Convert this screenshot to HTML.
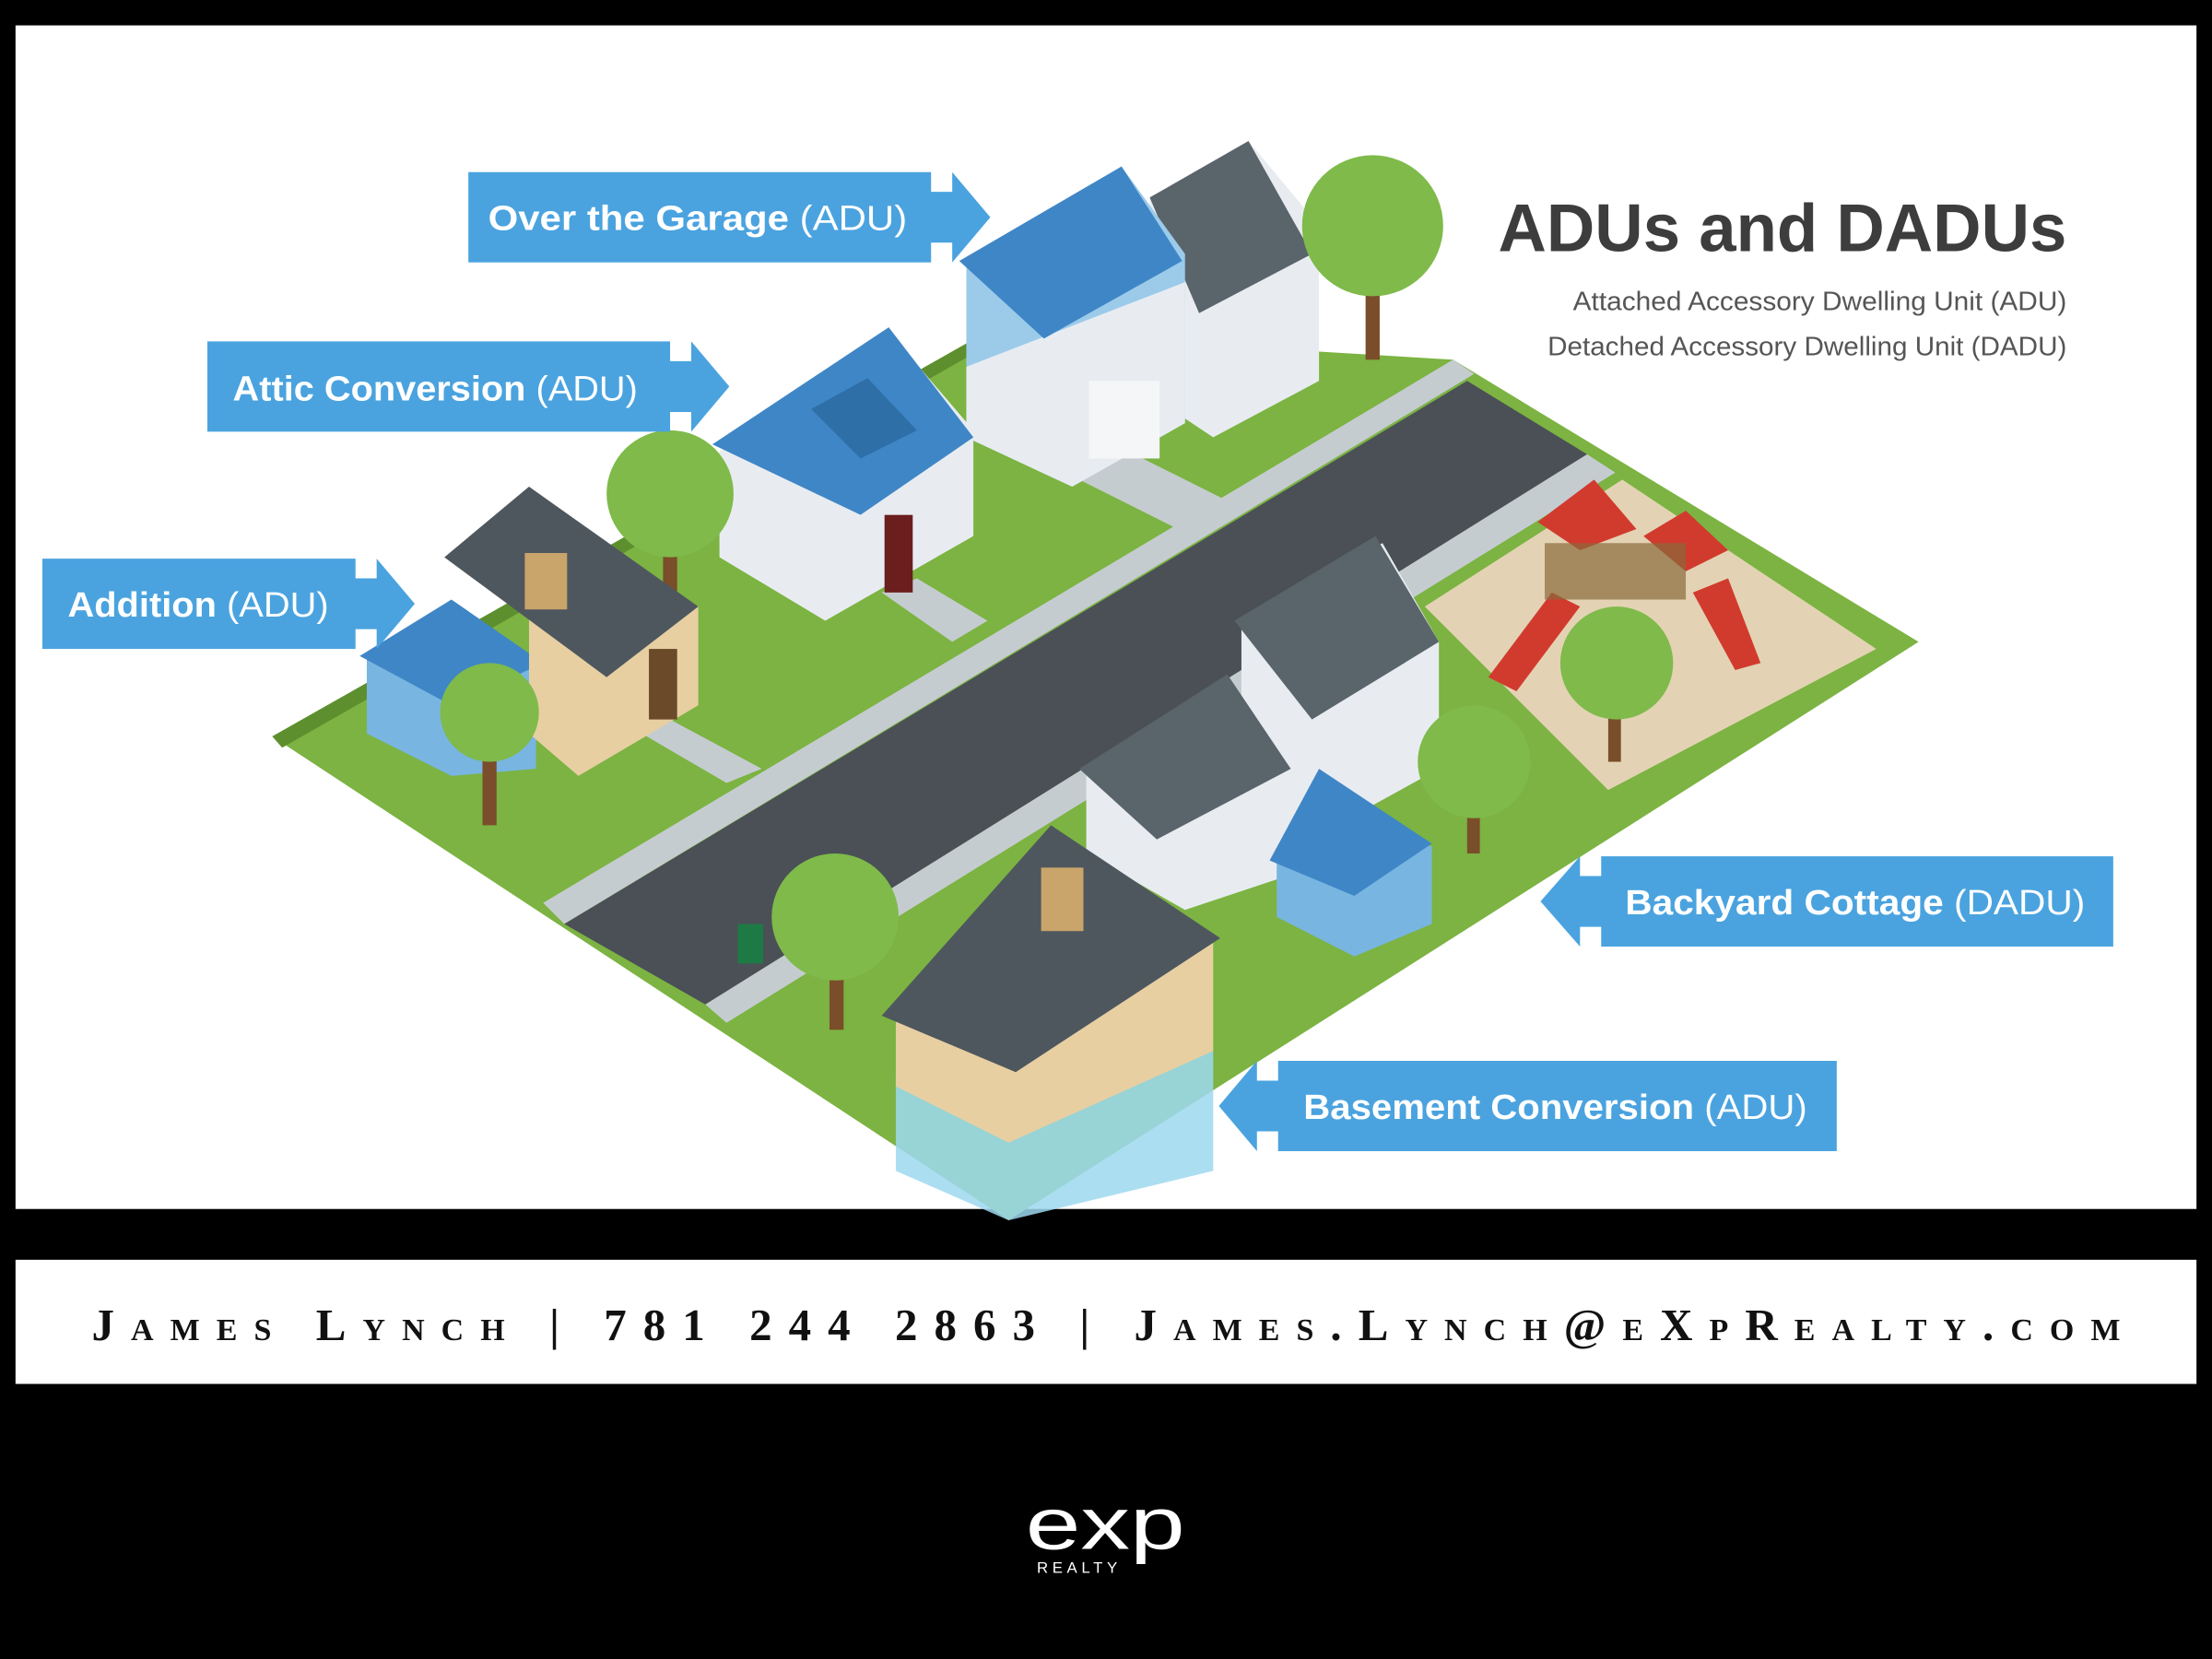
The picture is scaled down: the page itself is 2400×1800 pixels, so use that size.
<!DOCTYPE html>
<html><head><meta charset="utf-8"><style>
html,body{margin:0;padding:0;background:#000;width:2400px;height:1800px;overflow:hidden}
svg{display:block}
</style></head><body>
<svg width="2400" height="1800" viewBox="0 0 1568 1176" xmlns="http://www.w3.org/2000/svg" font-family="Liberation Sans, sans-serif">
<rect width="1568" height="1176" fill="#000"/>
<rect x="11" y="18" width="1546" height="839" fill="#fff"/>
<!-- ground -->
<polygon points="193,522 700,235 1030,255 1360,455 715,865" fill="#7cb342"/>
<polygon points="193,522 700,235 700,245 200,530" fill="#5d8f2e"/>
<!-- playground sand -->
<polygon points="1010,430 1150,340 1330,460 1140,560" fill="#e3d3b4"/>
<!-- sidewalks -->
<polygon points="385,640 1030,255 1045,265 400,655" fill="#c5ccd0"/>
<polygon points="500,712 1125,322 1145,335 515,725" fill="#c5ccd0"/>
<!-- road -->
<polygon points="400,655 1040,270 1125,322 500,712" fill="#4a5055"/>
<!-- paths -->
<polygon points="765,340 800,320 870,355 835,375" fill="#c5ccd0"/>
<polygon points="625,420 650,410 700,440 675,455" fill="#c5ccd0"/>
<polygon points="455,520 475,510 540,545 515,555" fill="#c5ccd0"/>
<!-- house top-right (garage) -->
<polygon points="815,140 885,100 935,160 935,270 860,310 815,280" fill="#e8ecf1"/>
<polygon points="815,140 885,100 930,180 850,222" fill="#5a646b"/>
<polygon points="685,185 795,118 840,180 840,300 760,345 685,310" fill="#9ccbea"/>
<polygon points="685,260 840,200 840,300 760,345 685,310" fill="#e8ecf1"/>
<polygon points="680,185 795,118 838,185 740,240" fill="#3f86c6"/>
<rect x="772" y="270" width="50" height="55" fill="#f4f6f8"/>
<!-- tree top-right -->
<rect x="968" y="185" width="10" height="70" fill="#7a4e2a"/>
<circle cx="973" cy="160" r="50" fill="#7fba4a"/>
<!-- house middle (attic) -->
<polygon points="510,320 630,235 690,305 690,380 585,440 510,395" fill="#e8ecf1"/>
<polygon points="505,315 630,232 690,310 610,365" fill="#3f86c6"/>
<polygon points="575,290 615,268 650,305 610,325" fill="#2e6fa8"/>
<rect x="627" y="365" width="20" height="55" fill="#6b1e1e"/>
<!-- tree -->
<rect x="470" y="370" width="10" height="50" fill="#7a4e2a"/>
<circle cx="475" cy="350" r="45" fill="#7fba4a"/>
<!-- house left (addition) -->
<polygon points="260,465 320,430 380,470 380,545 320,550 260,520" fill="#78b5e0"/>
<polygon points="255,465 320,425 385,470 320,500" fill="#3f86c6"/>
<polygon points="375,420 435,395 495,430 495,500 410,550 375,520" fill="#e7cfa2"/>
<polygon points="315,395 375,345 495,430 430,480" fill="#4e575e"/>
<rect x="372" y="392" width="30" height="40" fill="#c9a46b"/>
<rect x="460" y="460" width="20" height="50" fill="#6b4a2a"/>
<rect x="342" y="520" width="10" height="65" fill="#7a4e2a"/>
<circle cx="347" cy="505" r="35" fill="#7fba4a"/>
<!-- houses bottom middle -->
<polygon points="880,440 980,385 1020,455 1020,545 920,600 880,560" fill="#e8ecf1"/>
<polygon points="875,440 975,380 1020,455 930,510" fill="#5a646b"/>
<polygon points="770,545 860,495 915,550 915,620 840,645 770,605" fill="#e8ecf1"/>
<polygon points="765,545 870,478 915,545 820,595" fill="#5a646b"/>
<!-- backyard cottage -->
<polygon points="905,610 945,575 1015,600 1015,655 960,678 905,650" fill="#78b5e0"/>
<polygon points="900,610 935,545 1015,598 960,635" fill="#3f86c6"/>
<!-- trees -->
<rect x="1040" y="560" width="9" height="45" fill="#7a4e2a"/>
<circle cx="1045" cy="540" r="40" fill="#7fba4a"/>
<rect x="1140" y="500" width="9" height="40" fill="#7a4e2a"/>
<circle cx="1146" cy="470" r="40" fill="#7fba4a"/>
<rect x="588" y="680" width="10" height="50" fill="#7a4e2a"/>
<circle cx="592" cy="650" r="45" fill="#7fba4a"/>
<!-- playground -->
<polygon points="1090,370 1130,340 1160,375 1120,390" fill="#d13b2e"/>
<polygon points="1165,380 1195,362 1225,390 1195,405" fill="#d13b2e"/>
<polygon points="1055,480 1100,420 1120,430 1075,490" fill="#d13b2e"/>
<polygon points="1200,420 1225,410 1248,470 1230,475" fill="#d13b2e"/>
<rect x="1095" y="385" width="100" height="40" fill="#8a6a3a" opacity=".7"/>
<!-- front house (basement) -->
<polygon points="635,760 860,745 860,830 715,865 635,830" fill="#9ed8f0" opacity=".85"/>
<polygon points="635,720 735,655 860,665 860,745 715,810 635,770" fill="#e7cfa2"/>
<polygon points="625,720 745,585 865,665 720,760" fill="#4e575e"/>
<rect x="738" y="615" width="30" height="45" fill="#c9a46b"/>
<!-- sign -->
<rect x="523" y="655" width="18" height="28" fill="#1e7a45"/>
<!-- labels -->
<g fill="#4aa3df">
<rect x="332" y="122" width="328" height="64"/><polygon points="658,136 675,136 675,122 702,154 675,186 675,172 658,172"/>
<rect x="147" y="242" width="328" height="64"/><polygon points="473,256 490,256 490,242 517,274 490,306 490,292 473,292"/>
<rect x="30" y="396" width="222" height="64"/><polygon points="250,410 267,410 267,396 294,428 267,460 267,446 250,446"/>
<rect x="1135" y="607" width="363" height="64"/><polygon points="1137,621 1120,621 1120,607 1092,639 1120,671 1120,657 1137,657"/>
<rect x="906" y="752" width="396" height="64"/><polygon points="908,766 891,766 891,752 864,784 891,816 891,802 908,802"/>
</g>
<g fill="#fff" font-size="25">
<text x="346" y="163" textLength="297" lengthAdjust="spacingAndGlyphs"><tspan font-weight="bold">Over the Garage</tspan> (ADU)</text>
<text x="165" y="284" textLength="287" lengthAdjust="spacingAndGlyphs"><tspan font-weight="bold">Attic Conversion</tspan> (ADU)</text>
<text x="48" y="437" textLength="185" lengthAdjust="spacingAndGlyphs"><tspan font-weight="bold">Addition</tspan> (ADU)</text>
<text x="1152" y="648" textLength="326" lengthAdjust="spacingAndGlyphs"><tspan font-weight="bold">Backyard Cottage</tspan> (DADU)</text>
<text x="924" y="793" textLength="357" lengthAdjust="spacingAndGlyphs"><tspan font-weight="bold">Basement Conversion</tspan> (ADU)</text>
</g>
<text x="1062" y="178" font-size="48" font-weight="bold" fill="#3d3d3d" textLength="403" lengthAdjust="spacingAndGlyphs">ADUs and DADUs</text>
<text x="1465" y="220" font-size="19" fill="#555" text-anchor="end" textLength="350" lengthAdjust="spacingAndGlyphs">Attached Accessory Dwelling Unit (ADU)</text>
<text x="1465" y="252" font-size="19" fill="#555" text-anchor="end" textLength="368" lengthAdjust="spacingAndGlyphs">Detached Accessory Dwelling Unit (DADU)</text>
<!-- contact bar -->
<rect x="11" y="893" width="1546" height="88" fill="#fff"/>
<text x="65" y="950" font-size="32" font-weight="bold" fill="#111" font-variant="small-caps" font-family="Liberation Serif, serif" textLength="1438" lengthAdjust="spacing">James Lynch | 781 244 2863 | James.Lynch@eXpRealty.com</text>
<!-- logo -->
<text x="727" y="1098" font-size="52" fill="#fff" textLength="113" lengthAdjust="spacingAndGlyphs">exp</text>
<text x="735" y="1115" font-size="11" fill="#fff" letter-spacing="3">REALTY</text>
</svg>
</body></html>
